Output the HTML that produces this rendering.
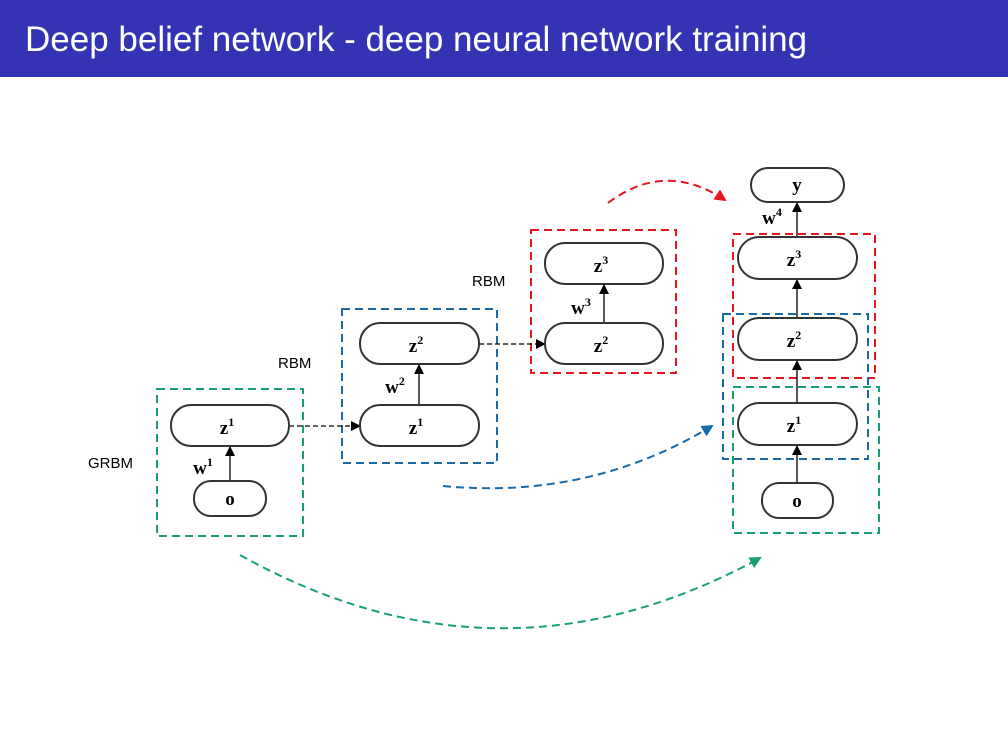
<!DOCTYPE html>
<html><head><style>
body{margin:0;width:1008px;height:756px;background:#fff;overflow:hidden;font-family:"Liberation Sans",sans-serif}
.h{position:absolute;left:0;top:0;width:1008px;height:77px;background:#3333b3}
.h span{position:absolute;left:25px;top:20px;color:#fff;font-size:35px;white-space:nowrap}
svg{position:absolute;left:0;top:0}
.n{fill:#fff;stroke:#333;stroke-width:2}
.t{font-family:"Liberation Serif",serif;font-weight:bold;font-size:19px;text-anchor:middle}
.s{font-family:"Liberation Serif",serif;font-size:12px}
.l{font-family:"Liberation Sans",sans-serif;font-size:15px}
</style></head><body>
<div class="h"><span>Deep belief network - deep neural network training</span></div>
<svg width="1008" height="756">
<defs>
<marker id="a" markerWidth="10" markerHeight="10" refX="9" refY="5" orient="auto" markerUnits="userSpaceOnUse"><path d="M0,0 L10,5 L0,10 Z" fill="#000"/></marker>
<marker id="ar" markerWidth="12" markerHeight="12" refX="10" refY="6" orient="auto" markerUnits="userSpaceOnUse"><path d="M0,0 L12,6 L0,12 Z" fill="#e8141e"/></marker>
<marker id="ab" markerWidth="12" markerHeight="12" refX="10" refY="6" orient="auto" markerUnits="userSpaceOnUse"><path d="M0,0 L12,6 L0,12 Z" fill="#1a6aa8"/></marker>
<marker id="ag" markerWidth="12" markerHeight="12" refX="10" refY="6" orient="auto" markerUnits="userSpaceOnUse"><path d="M0,0 L12,6 L0,12 Z" fill="#1aa070"/></marker>
</defs>
<g fill="none" stroke-width="2" stroke-dasharray="8,5">
<rect x="157" y="389" width="146" height="147" stroke="#1aa070"/>
<rect x="342" y="309" width="155" height="154" stroke="#1a6aa8"/>
<rect x="531" y="230" width="145" height="143" stroke="#e8141e"/>
<rect x="733" y="234" width="142" height="144" stroke="#e8141e"/>
<rect x="723" y="314" width="145" height="145" stroke="#1a6aa8"/>
<rect x="733" y="387" width="146" height="146" stroke="#1aa070"/>
<path d="M608,203 Q665,160 725,200" stroke="#e8141e" marker-end="url(#ar)"/>
<path d="M443,486 Q590,500 712,426" stroke="#1a6aa8" marker-end="url(#ab)"/>
<path d="M240,555 Q500,700 760,558" stroke="#1aa070" marker-end="url(#ag)"/>
</g>
<g stroke="#000" stroke-width="1.3" fill="none">
<path d="M230,481 V447" marker-end="url(#a)"/>
<path d="M419,405 V365" marker-end="url(#a)"/>
<path d="M604,323 V285" marker-end="url(#a)"/>
<path d="M289,426 H360" stroke-dasharray="5,3" marker-end="url(#a)"/>
<path d="M479,344 H545" stroke-dasharray="5,3" marker-end="url(#a)"/>
<path d="M797,483 V446" marker-end="url(#a)"/>
<path d="M797,403 V361" marker-end="url(#a)"/>
<path d="M797,318 V280" marker-end="url(#a)"/>
<path d="M797,237 V203" marker-end="url(#a)"/>
</g>
<rect class="n" x="171" y="405" width="118" height="41" rx="20"/>
<rect class="n" x="194" y="481" width="72" height="35" rx="17"/>
<rect class="n" x="360" y="323" width="119" height="41" rx="20"/>
<rect class="n" x="360" y="405" width="119" height="41" rx="20"/>
<rect class="n" x="545" y="243" width="118" height="41" rx="20"/>
<rect class="n" x="545" y="323" width="118" height="41" rx="20"/>
<rect class="n" x="751" y="168" width="93" height="34" rx="17"/>
<rect class="n" x="738" y="237" width="119" height="42" rx="21"/>
<rect class="n" x="738" y="318" width="119" height="42" rx="21"/>
<rect class="n" x="738" y="403" width="119" height="42" rx="21"/>
<rect class="n" x="762" y="483" width="71" height="35" rx="17"/>
<g class="t">
<text x="227" y="434">z<tspan class="s" dy="-8">1</tspan></text>
<text x="230" y="505">o</text>
<text x="416" y="352">z<tspan class="s" dy="-8">2</tspan></text>
<text x="416" y="434">z<tspan class="s" dy="-8">1</tspan></text>
<text x="601" y="272">z<tspan class="s" dy="-8">3</tspan></text>
<text x="601" y="352">z<tspan class="s" dy="-8">2</tspan></text>
<text x="797" y="191">y</text>
<text x="794" y="266">z<tspan class="s" dy="-8">3</tspan></text>
<text x="794" y="347">z<tspan class="s" dy="-8">2</tspan></text>
<text x="794" y="432">z<tspan class="s" dy="-8">1</tspan></text>
<text x="797" y="507">o</text>
<text x="203" y="474">w<tspan class="s" dy="-8">1</tspan></text>
<text x="395" y="393">w<tspan class="s" dy="-8">2</tspan></text>
<text x="581" y="314">w<tspan class="s" dy="-8">3</tspan></text>
<text x="772" y="224">w<tspan class="s" dy="-8">4</tspan></text>
</g>
<text class="l" x="88" y="468">GRBM</text>
<text class="l" x="278" y="368">RBM</text>
<text class="l" x="472" y="286">RBM</text>
</svg>
</body></html>
